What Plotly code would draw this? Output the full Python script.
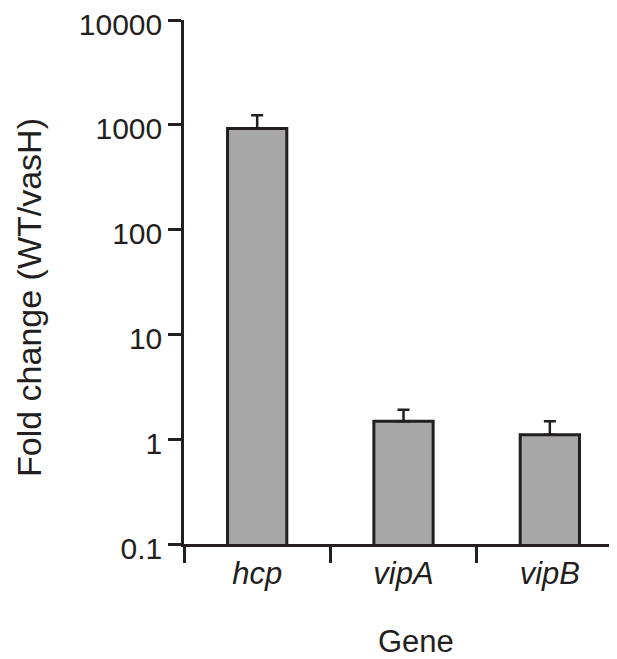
import plotly.graph_objects as go

genes = ["hcp", "vipA", "vipB"]
fold_change = [922, 1.48, 1.10]
error_up = [316, 0.43, 0.38]
y_tick_vals = [0.1, 1, 10, 100, 1000, 10000]
y_tick_text = ["0.1", "1", "10", "100", "1000", "10000"]

ink = "#231f20"
font_family = "Liberation Sans, Arial, Helvetica, sans-serif"

fig = go.Figure()
fig.add_trace(go.Bar(
    x=genes, y=fold_change,
    width=0.405,
    marker=dict(color="#a7a7a7", line=dict(color=ink, width=3)),
    error_y=dict(type="data", array=error_up, symmetric=False, arrayminus=[0, 0, 0],
                 color=ink, thickness=2.5, width=6),
    showlegend=False,
))

fig.update_layout(
    template="none",
    width=617, height=659,
    margin=dict(l=176, r=2, t=12, b=123, autoexpand=False),
    plot_bgcolor="white", paper_bgcolor="white",
    font=dict(family=font_family, size=30, color=ink),
)
fig.update_xaxes(
    type="category", range=[-0.5, 2.5], automargin=False,
    showline=True, linecolor=ink, linewidth=2.5,
    ticks="outside", tickson="boundaries", ticklen=16, tickwidth=2.5, tickcolor=ink,
    tickfont=dict(size=31, style="italic", color=ink, family=font_family),
    showgrid=False, zeroline=False,
)
fig.update_yaxes(
    type="log", range=[-1, 4.0005], automargin=False,
    tickvals=y_tick_vals, ticktext=y_tick_text, ticklabeloverflow="allow",
    ticklabelshift=4,
    showline=True, linecolor=ink, linewidth=2.5,
    ticks="outside", ticklen=13, tickwidth=2.5, tickcolor=ink,
    tickfont=dict(size=30, color=ink, family=font_family),
    showgrid=False, zeroline=False,
)
fig.add_annotation(text="Gene", xref="paper", yref="paper", x=(408 - 176) / 439, y=-(633 - 536) / 524,
                   showarrow=False, font=dict(size=31, color=ink, family=font_family),
                   xanchor="center", yanchor="middle")
fig.add_annotation(text="Fold change (WT/vasH)", xref="paper", yref="paper",
                   x=-(176 - 21) / 439, y=(536 - 290) / 524, textangle=-90,
                   showarrow=False, font=dict(size=34, color=ink, family=font_family),
                   xanchor="center", yanchor="middle")

fig.write_html("out.html")
